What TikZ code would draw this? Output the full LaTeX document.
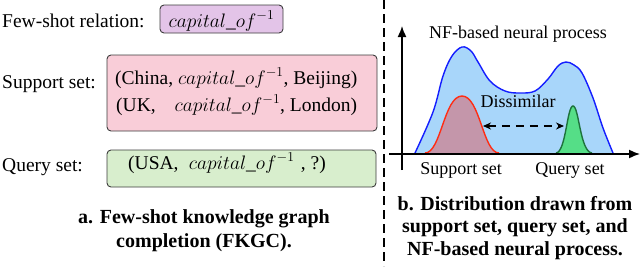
\RequirePackage{fix-cm}
\documentclass[tikz,border=0pt]{standalone}
\usepackage{fontspec}
\setmainfont{Liberation Serif}
\usetikzlibrary{arrows.meta}
\definecolor{purpfill}{RGB}{227,196,232}
\definecolor{pinkfill}{RGB}{249,205,216}
\definecolor{grnbox}{RGB}{216,238,205}
\definecolor{bluefill}{RGB}{168,214,250}
\definecolor{blueline}{RGB}{20,30,255}
\definecolor{redfill}{RGB}{196,150,170}
\definecolor{redline}{RGB}{255,45,20}
\definecolor{grnfill}{RGB}{85,222,135}
\definecolor{grnline}{RGB}{30,115,60}
\definecolor{boxline}{RGB}{60,60,60}
\tikzset{
  lbl/.style={inner sep=0pt, font=\fontsize{19.5}{23}\selectfont},
  sml/.style={inner sep=0pt, font=\fontsize{18}{21}\selectfont},
  capt/.style={inner sep=0pt, align=center, font=\fontsize{20}{23}\selectfont\bfseries},
  tbox/.style={draw=boxline, line width=0.9pt, rounded corners=4pt, inner sep=0pt},
  axis/.style={line width=1.5pt, -{Latex[length=11pt,width=9pt]}},
}
\newcommand{\capof}{$capital\_of^{-1}$}
\begin{document}
\begin{tikzpicture}[x=1pt,y=-1pt]
\useasboundingbox (0,0) rectangle (640,266);
% ---------- left panel ----------
\node[lbl, anchor=base west] (lrel) at (2,27) {Few-shot relation:};
\node[tbox, fill=purpfill, minimum width=123pt, minimum height=28pt] (brel) at (221.5,19) {};
\node[lbl, anchor=base] (trel) at (221.5,27) {\capof};

\node[lbl, anchor=base west] (lsup) at (2,88) {Support set:};
\node[tbox, fill=pinkfill, minimum width=270pt, minimum height=76pt] (bsup) at (242,93) {};
\node[lbl, anchor=base west] (tsup1) at (115,84) {(China, \capof, Beijing)};
\node[lbl, anchor=base west] (tsup2) at (116,111) {(UK,\hspace{14pt} \capof, London)};

\node[lbl, anchor=base west] (lqry) at (2,171) {Query set:};
\node[tbox, fill=grnbox, minimum width=269pt, minimum height=37pt] (bqry) at (241.5,168.5) {};
\node[lbl, anchor=base west] (tqry) at (128,169) {(USA,\; \capof\,\,, ?)};

\node[capt, anchor=base] (capa1) at (204,223) {a. Few-shot knowledge graph};
\node[capt, anchor=base] (capa2) at (204,247) {completion (FKGC).};

% ---------- divider ----------
\coordinate (dtop) at (384,0);
\coordinate (dbot) at (384,266);
\draw[line width=2pt, dash pattern=on 9pt off 5pt] (dtop) -- (dbot);

% ---------- right panel ----------
\coordinate (yb) at (402,170);
\coordinate (yt) at (402,26);
\coordinate (xl) at (389,154);
\coordinate (xr) at (640,154);

\filldraw[fill=bluefill, draw=blueline, line width=1.4pt]
  plot[smooth, tension=0.6] coordinates {(415,153) (433,112) (443,76) (452,56) (462,47) (471,51) (478,62) (490,81) (505,91) (520,93) (535,91) (548,79) (558,66) (566,62) (574,65) (582,73) (593,98) (603,128) (613,153)};
\filldraw[fill=redfill, draw=redline, line width=1.4pt]
  (425,153) .. controls (441,153) and (444,96) .. (462,96)
  .. controls (480,96) and (483,153) .. (499,153);
\filldraw[fill=grnfill, draw=grnline, line width=1.4pt]
  (556,153) .. controls (566,152) and (567,106) .. (573,106)
  .. controls (579,106) and (580,152) .. (592,153);

\draw[axis] (yb) -- (yt);
\draw[axis] (xl) -- (xr);

\coordinate (da) at (483,126);
\coordinate (db) at (564,126);
\draw[line width=1.6pt, dash pattern=on 8pt off 6pt, {Stealth[length=8pt,width=7pt]}-{Stealth[length=8pt,width=7pt]}] (da) -- (db);

\node[sml, anchor=base] (nfl) at (518,38) {NF-based neural process};
\node[sml, anchor=base] (dis) at (518,107) {Dissimilar};
\node[sml, anchor=base] (sps) at (461,174) {Support set};
\node[sml, anchor=base] (qs) at (570,174) {Query set};

\node[capt, anchor=base] (capb1) at (515,210) {b. Distribution drawn from};
\node[capt, anchor=base] (capb2) at (515,232) {support set, query set, and};
\node[capt, anchor=base] (capb3) at (515,255) {NF-based neural process.};
\end{tikzpicture}
\end{document}
